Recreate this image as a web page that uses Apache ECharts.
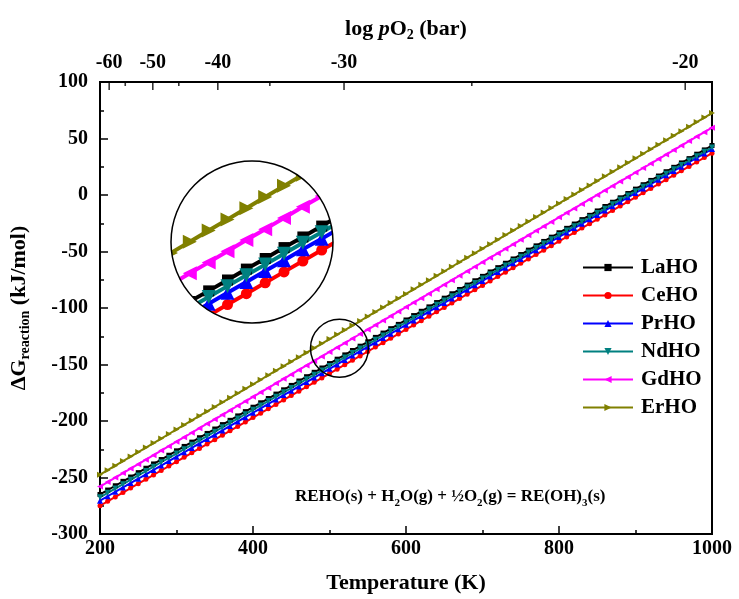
<!DOCTYPE html>
<html>
<head>
<meta charset="utf-8">
<script src="https://cdn.jsdelivr.net/npm/echarts@6/dist/echarts.min.js"></script>
<style>html,body{margin:0;padding:0;background:#fff}#main{width:739px;height:599px}</style>
</head>
<body>
<div id="main"></div>
<script>
// ---- data ----
const temperatures = [200,210,220,230,240,250,260,270,280,290,300,310,320,330,340,350,360,370,380,390,400,410,420,430,440,450,460,470,480,490,500,510,520,530,540,550,560,570,580,590,600,610,620,630,640,650,660,670,680,690,700,710,720,730,740,750,760,770,780,790,800,810,820,830,840,850,860,870,880,890,900,910,920,930,940,950,960,970,980,990,1000];
const LaHO = [-265.0,-261.1,-257.3,-253.4,-249.6,-245.7,-241.8,-238.0,-234.1,-230.3,-226.4,-222.5,-218.7,-214.8,-211.0,-207.1,-203.2,-199.4,-195.5,-191.7,-187.8,-183.9,-180.1,-176.2,-172.4,-168.5,-164.6,-160.8,-156.9,-153.1,-149.2,-145.3,-141.5,-137.6,-133.8,-129.9,-126.0,-122.2,-118.3,-114.5,-110.6,-106.7,-102.9,-99.0,-95.2,-91.3,-87.4,-83.6,-79.7,-75.9,-72.0,-68.1,-64.3,-60.4,-56.6,-52.7,-48.8,-45.0,-41.1,-37.3,-33.4,-29.5,-25.7,-21.8,-18.0,-14.1,-10.2,-6.4,-2.5,1.3,5.2,9.1,12.9,16.8,20.6,24.5,28.4,32.2,36.1,39.9,43.8];
const CeHO = [-275.0,-271.1,-267.2,-263.3,-259.4,-255.5,-251.6,-247.7,-243.8,-239.9,-236.0,-232.1,-228.2,-224.3,-220.4,-216.5,-212.6,-208.7,-204.8,-200.9,-197.0,-193.1,-189.2,-185.3,-181.4,-177.5,-173.6,-169.7,-165.8,-161.9,-158.0,-154.1,-150.2,-146.3,-142.4,-138.5,-134.6,-130.7,-126.8,-122.9,-119.0,-115.1,-111.2,-107.3,-103.4,-99.5,-95.6,-91.7,-87.8,-83.9,-80.0,-76.1,-72.2,-68.3,-64.4,-60.5,-56.6,-52.7,-48.8,-44.9,-41.0,-37.1,-33.2,-29.3,-25.4,-21.5,-17.6,-13.7,-9.8,-5.9,-2.0,1.9,5.8,9.7,13.6,17.5,21.4,25.3,29.2,33.1,37.0];
const PrHO = [-270.5,-266.6,-262.7,-258.8,-254.9,-251.1,-247.2,-243.3,-239.4,-235.5,-231.6,-227.7,-223.8,-219.9,-216.0,-212.2,-208.3,-204.4,-200.5,-196.6,-192.7,-188.8,-184.9,-181.0,-177.1,-173.3,-169.4,-165.5,-161.6,-157.7,-153.8,-149.9,-146.0,-142.1,-138.2,-134.4,-130.5,-126.6,-122.7,-118.8,-114.9,-111.0,-107.1,-103.2,-99.3,-95.5,-91.6,-87.7,-83.8,-79.9,-76.0,-72.1,-68.2,-64.3,-60.4,-56.6,-52.7,-48.8,-44.9,-41.0,-37.1,-33.2,-29.3,-25.4,-21.5,-17.7,-13.8,-9.9,-6.0,-2.1,1.8,5.7,9.6,13.5,17.4,21.3,25.1,29.0,32.9,36.8,40.7];
const NdHO = [-267.5,-263.6,-259.8,-255.9,-252.0,-248.2,-244.3,-240.4,-236.5,-232.7,-228.8,-224.9,-221.1,-217.2,-213.3,-209.5,-205.6,-201.7,-197.8,-194.0,-190.1,-186.2,-182.4,-178.5,-174.6,-170.8,-166.9,-163.0,-159.1,-155.3,-151.4,-147.5,-143.7,-139.8,-135.9,-132.1,-128.2,-124.3,-120.4,-116.6,-112.7,-108.8,-105.0,-101.1,-97.2,-93.4,-89.5,-85.6,-81.7,-77.9,-74.0,-70.1,-66.3,-62.4,-58.5,-54.7,-50.8,-46.9,-43.0,-39.2,-35.3,-31.4,-27.6,-23.7,-19.8,-16.0,-12.1,-8.2,-4.3,-0.5,3.4,7.3,11.1,15.0,18.9,22.8,26.6,30.5,34.4,38.2,42.1];
const GdHO = [-258.0,-254.0,-250.1,-246.1,-242.1,-238.2,-234.2,-230.2,-226.2,-222.3,-218.3,-214.3,-210.4,-206.4,-202.4,-198.5,-194.5,-190.5,-186.5,-182.6,-178.6,-174.6,-170.7,-166.7,-162.7,-158.8,-154.8,-150.8,-146.8,-142.9,-138.9,-134.9,-131.0,-127.0,-123.0,-119.1,-115.1,-111.1,-107.1,-103.2,-99.2,-95.2,-91.3,-87.3,-83.3,-79.4,-75.4,-71.4,-67.4,-63.5,-59.5,-55.5,-51.6,-47.6,-43.6,-39.7,-35.7,-31.7,-27.7,-23.8,-19.8,-15.8,-11.9,-7.9,-3.9,0.1,4.0,8.0,12.0,15.9,19.9,23.9,27.8,31.8,35.8,39.8,43.7,47.7,51.7,55.6,59.6];
const ErHO = [-247.5,-243.5,-239.5,-235.5,-231.5,-227.5,-223.5,-219.5,-215.5,-211.5,-207.5,-203.5,-199.5,-195.5,-191.5,-187.5,-183.5,-179.5,-175.5,-171.5,-167.5,-163.5,-159.5,-155.5,-151.5,-147.5,-143.5,-139.5,-135.5,-131.5,-127.5,-123.5,-119.5,-115.5,-111.5,-107.5,-103.5,-99.5,-95.5,-91.5,-87.5,-83.5,-79.5,-75.5,-71.5,-67.5,-63.5,-59.5,-55.5,-51.5,-47.5,-43.5,-39.5,-35.5,-31.5,-27.5,-23.5,-19.5,-15.5,-11.5,-7.5,-3.5,0.5,4.5,8.5,12.5,16.5,20.5,24.5,28.5,32.5,36.5,40.5,44.5,48.5,52.5,56.5,60.5,64.5,68.5,72.5];

const seriesNames = ['LaHO','CeHO','PrHO','NdHO','GdHO','ErHO'];
const seriesValues = [LaHO, CeHO, PrHO, NdHO, GdHO, ErHO];
const colors = ['#000000','#ff0000','#0000ff','#008080','#ff00ff','#808000'];
const symbols = ['rect','circle','triangle','triangle','triangle','triangle'];
const rotates = [0,0,0,180,90,-90];

// top axis: log pO2 tick labels and the temperatures (K) where they sit
const topTickLabels = [-60,-50,-40,-30,-20];
const topTickTemps = [212,269,354,519,965];
const topMinorTemps = [233,303,422,686];

// magnified window (inset)
const insetCenter = [513, -135.6];
const insetHalfT = 43;
const insetHalfG = 29;

const serif = '"Liberation Serif", "Times New Roman", serif';

function pairs(vals){ return temperatures.map((t,i)=>[t, vals[i]]); }

// category scaffold for the top (non-linear) axis labels: one slot per kelvin, 200..1000
const topSlots = [];
for (let t = 200; t <= 1000; t++) topSlots.push(String(t));

const series = [];
seriesNames.forEach((n,i)=>{
  series.push({
    name:n, type:'line', xAxisIndex:0, yAxisIndex:0,
    data: pairs(seriesValues[i]),
    symbol: symbols[i], symbolRotate: rotates[i], symbolSize: symbols[i]==='triangle'?6:5,
    showAllSymbol:true,
    itemStyle:{color:colors[i]}, lineStyle:{color:colors[i], width:2},
    z:3
  });
});
seriesNames.forEach((n,i)=>{
  series.push({
    name:n, type:'line', xAxisIndex:2, yAxisIndex:1,
    data: pairs(seriesValues[i]),
    symbol: symbols[i], symbolRotate: rotates[i], symbolSize: symbols[i]==='triangle'?14:11,
    showAllSymbol:true, clip:true, silent:true,
    itemStyle:{color:colors[i]}, lineStyle:{color:colors[i], width:4},
    z:1
  });
});
// top-axis tick marks (inward), placed through the temperature scale at the top edge (100)
series.push({
  name:'topMajorTicks', type:'scatter', xAxisIndex:0, yAxisIndex:0, silent:true, clip:false,
  data: topTickTemps.map(t=>[t, 100]),
  symbol:'rect', symbolSize:[1.6, 8], symbolOffset:[0, 4],
  itemStyle:{color:'#000'}, z:5
});
series.push({
  name:'topMinorTicks', type:'scatter', xAxisIndex:0, yAxisIndex:0, silent:true, clip:false,
  data: topMinorTemps.map(t=>[t, 100]),
  symbol:'rect', symbolSize:[1.6, 4], symbolOffset:[0, 2],
  itemStyle:{color:'#000'}, z:5
});

const chart = echarts.init(document.getElementById('main'));
const labelFont = {fontFamily:serif, fontWeight:'bold', fontSize:20, color:'#000'};

const option = {
  backgroundColor:'#fff',
  animation:false,
  title:{
    left:290, top:480,
    text:'{b|REHO(s) + H}{s|2}{b|O(g) + ½O}{s|2}{b|(g) = RE(OH)}{s|3}{b|(s)}',
    textStyle:{
      rich:{
        b:{fontFamily:serif, fontWeight:'bold', fontSize:17, color:'#000', lineHeight:24, verticalAlign:'middle'},
        s:{fontFamily:serif, fontWeight:'bold', fontSize:11, color:'#000', lineHeight:24, verticalAlign:'bottom'}
      }
    }
  },
  legend:{
    orient:'vertical', left:577, top:252,
    itemWidth:50, itemHeight:9, itemGap:7,
    data:seriesNames,
    textStyle:{fontFamily:serif, fontWeight:'bold', fontSize:21, color:'#000', lineHeight:20, padding:[0,0,0,3]}
  },
  grid:[
    {left:96, right:27, top:82, bottom:62, show:true, borderColor:'#000', borderWidth:2, backgroundColor:'transparent'},
    {left:171, top:161, width:162, height:162, show:false}
  ],
  xAxis:[
    {
      type:'value', gridIndex:0, min:200, max:1000, interval:200, position:'bottom',
      name:'Temperature (K)', nameLocation:'middle', nameGap:38,
      nameTextStyle:{fontFamily:serif, fontWeight:'bold', fontSize:22, color:'#000'},
      axisLine:{onZero:false, lineStyle:{color:'#000', width:2}},
      axisTick:{inside:true, length:8, lineStyle:{color:'#000', width:1.5}},
      minorTick:{show:true, splitNumber:2, length:4, lineStyle:{color:'#000', width:1.5}},
      axisLabel:Object.assign({margin:5, formatter:function(v){return String(v);}}, labelFont),
      splitLine:{show:false}
    },
    {
      type:'category', gridIndex:0, data:topSlots, boundaryGap:false, position:'top',
      name:'{n|log }{i|p}{n|O}{s|2}{n| (bar)}', nameLocation:'middle', nameGap:40,
      nameTextStyle:{rich:{
        n:{fontFamily:serif, fontWeight:'bold', fontSize:22, color:'#000', lineHeight:26, verticalAlign:'middle'},
        i:{fontFamily:serif, fontWeight:'bold', fontStyle:'italic', fontSize:22, color:'#000', lineHeight:26, verticalAlign:'middle'},
        s:{fontFamily:serif, fontWeight:'bold', fontSize:14, color:'#000', lineHeight:26, verticalAlign:'bottom'}
      }},
      axisLine:{show:true, onZero:false, lineStyle:{color:'#000', width:2}},
      axisTick:{show:false},
      axisLabel:Object.assign({show:true, margin:9,
        interval:function(idx, v){ return topTickTemps.indexOf(+v) >= 0; },
        formatter:function(v){ const k = topTickTemps.indexOf(+v); return k>=0 ? String(topTickLabels[k]) : ''; }}, labelFont),
      splitLine:{show:false}
    },
    {
      type:'value', gridIndex:1, min:insetCenter[0]-insetHalfT, max:insetCenter[0]+insetHalfT, show:false
    }
  ],
  yAxis:[
    {
      type:'value', gridIndex:0, min:-300, max:100, interval:50,
      name:'{d|ΔG}{s|reaction}{d| (kJ/mol)}', nameLocation:'middle', nameGap:68, nameRotate:90,
      nameTextStyle:{rich:{
        d:{fontFamily:serif, fontWeight:'bold', fontSize:22, color:'#000', lineHeight:26, verticalAlign:'middle'},
        s:{fontFamily:serif, fontWeight:'bold', fontSize:14, color:'#000', lineHeight:26, verticalAlign:'bottom'}
      }},
      axisLine:{show:true, onZero:false, lineStyle:{color:'#000', width:2}},
      axisTick:{inside:true, length:8, lineStyle:{color:'#000', width:1.5}},
      minorTick:{show:true, splitNumber:2, length:4, lineStyle:{color:'#000', width:1.5}},
      axisLabel:Object.assign({margin:12}, labelFont),
      splitLine:{show:false}
    },
    {
      type:'value', gridIndex:1, min:insetCenter[1]-insetHalfG, max:insetCenter[1]+insetHalfG, show:false
    }
  ],
  series:series
};
chart.setOption(option);

// circles: position from the axes
const smallC = chart.convertToPixel({xAxisIndex:0, yAxisIndex:0}, insetCenter);
const smallR = insetHalfT * (chart.convertToPixel({xAxisIndex:0}, 300) - chart.convertToPixel({xAxisIndex:0}, 200)) / 100 * 0.88;
const bigC = chart.convertToPixel({xAxisIndex:2, yAxisIndex:1}, insetCenter);
const bigR = 81;
chart.setOption({
  graphic:[
    {type:'ring', z:1.5, silent:true, shape:{cx:bigC[0], cy:bigC[1], r0:bigR, r:bigR*1.45}, style:{fill:'#fff'}},
    {type:'circle', z:10, silent:true, shape:{cx:bigC[0], cy:bigC[1], r:bigR}, style:{fill:'none', stroke:'#000', lineWidth:1.5}},
    {type:'circle', z:10, silent:true, shape:{cx:smallC[0], cy:smallC[1], r:smallR}, style:{fill:'none', stroke:'#000', lineWidth:1.5}}
  ]
});
</script>
</body>
</html>
